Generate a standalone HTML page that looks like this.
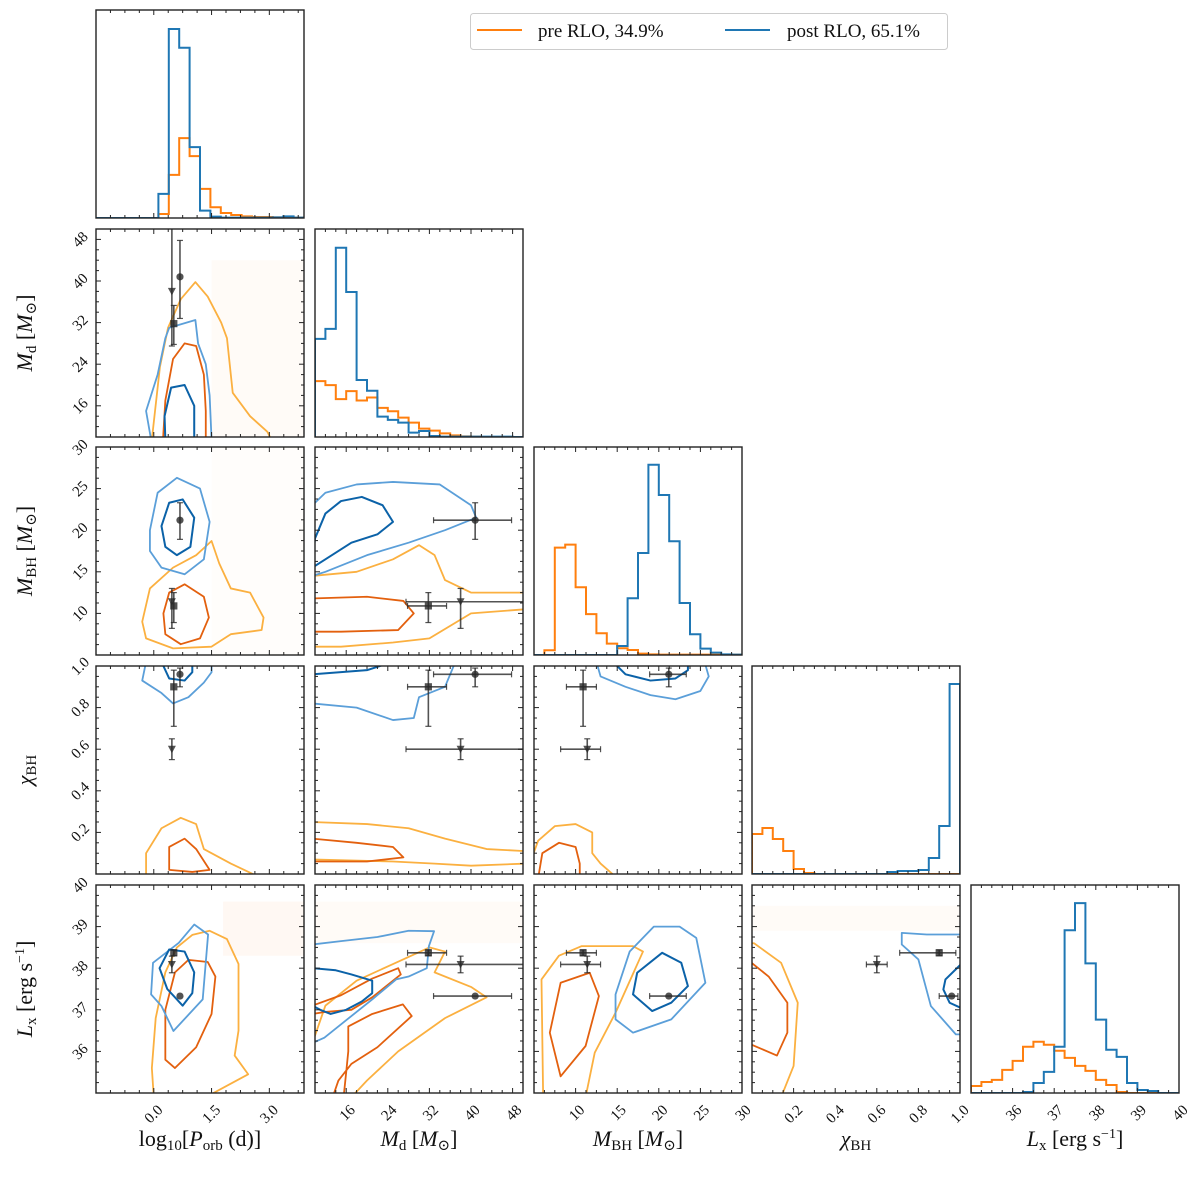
<!DOCTYPE html>
<html><head><meta charset="utf-8">
<style>
html,body{margin:0;padding:0;background:#fff;}
svg{display:block;}
text{font-family:"Liberation Serif","DejaVu Serif",serif;fill:#111;}
</style></head>
<body>
<svg id="fig" width="1200" height="1190" viewBox="0 0 1200 1190" xmlns="http://www.w3.org/2000/svg">
<defs id="defs"></defs>
<g id="legend">
  <rect x="470.5" y="13.5" width="477" height="36" rx="3" fill="#fff" stroke="#ccc" stroke-width="1"/>
  <line x1="477" y1="30" x2="522" y2="30" stroke="#ff7f0e" stroke-width="2"/>
  <text x="538" y="37" font-size="19">pre RLO, 34.9%</text>
  <line x1="725" y1="30" x2="770" y2="30" stroke="#1f77b4" stroke-width="2"/>
  <text x="787" y="37" font-size="19">post RLO, 65.1%</text>
</g>
</svg>
<script>
// ---------------- data ----------------
const varRanges = [[-1.5,3.9],[10,50],[5,30],[0,1],[35,40]];
const majorTicks = [[0,1.5,3.0],[16,24,32,40,48],[10,15,20,25,30],[0.2,0.4,0.6,0.8,1.0],[36,37,38,39,40]];
const tickLabels = [["0.0","1.5","3.0"],["16","24","32","40","48"],["10","15","20","25","30"],["0.2","0.4","0.6","0.8","1.0"],["36","37","38","39","40"]];
const minorStep = [0.375,2,1.25,0.05,0.25];

const histStart = [-1.5,10,5,0,35];
const histWidth = [0.27,2,1.25,0.05,0.25];
const histMax = [622,621,620,208,207];
const histPreP = [0,0,0,0,0,0,12,129,239,185,87,32,15,9,5,3,3,2,2,1];
const histPostP = [0,0,0,0,0,0,72,565,509,212,22,4,1,1,1,1,1,2,5,1];
const histPreMd = [167,155,113,137,109,118,87,77,58,43,25,19,11,5,2,1,0,0,0,0];
const histPostMd = [293,323,565,433,170,138,61,51,43,13,18,3,1,1,1,1,1,1,1,0];
const histPreBH = [0,14,320,329,202,122,65,34,20,15,4,2,1,1,1,1,1,1,1,1];
const histPostBH = [0,0,0,0,0,0,0,0,27,169,304,567,477,339,155,62,19,7,2,1];
const histPreChi = [40,46,35,23,5,1,0,0,0,0,0,0,0,0,0,0,0,0,0,0];
const histPostChi = [0,0,0,0,0,0,0,0,0,0,0,0,0,2,3,3,4,16,48,190];
const histPreLx = [7,11,13,23,32,46,51,48,42,35,27,22,13,8,1,0,0,0,0,0];
const histPostLx = [0,0,0,0,0,1,10,21,46,162,189,129,73,43,36,10,3,2,0,0];

const obsCircle = [0.68,40.8,21.2,0.96,37.33];
const obsCircleLo = [0,8,2.3,0.06,0];
const obsCircleHi = [0,7,2.1,0.03,0];
const obsSquare = [0.52,31.8,10.9,0.9,38.37];
const obsSquareLo = [0,4,2.0,0.19,0.07];
const obsSquareHi = [0,3.5,1.6,0.08,0.07];
const obsTriangle = [0.47,38,11.4,0.6,38.09];
const obsTriangleLo = [0,10.5,3.2,0.05,0.2];
const obsTriangleHi = [0,12.5,1.6,0.05,0.2];

const r1c0_oL=[[-0.05,9.5],[0.16,23.5],[0.37,31],[0.7,36.5],[1.08,39.8],[1.4,37],[1.75,32],[1.9,29],[2.05,18.5],[2.5,14],[2.95,11],[3.05,9.5]];
const r1c0_oD=[[0.24,9.5],[0.3,17],[0.5,25],[0.8,28],[1.1,27.5],[1.3,22],[1.35,15],[1.35,9.5]];
const r1c0_bL=[[-0.07,9.5],[-0.2,15],[0.1,22],[0.3,29],[0.4,31],[1.08,32.5],[1.15,28],[1.35,24],[1.45,18],[1.5,9.5]];
const r1c0_bD=[[0.3,9.5],[0.28,14],[0.45,19.5],[0.8,20],[1.05,16],[1.05,9.5]];
const r2c0_oL=[[-0.3,9],[-0.1,13],[0.5,15.5],[1.1,17],[1.5,18.7],[1.7,16],[2.0,13],[2.5,12.5],[2.85,9.5],[2.8,8],[2.0,7.5],[1.5,6],[0.5,5.8],[-0.2,7]];
const r2c0_oD=[[0.25,10],[0.4,12.5],[0.8,13.5],[1.3,12],[1.43,9.5],[1.2,7],[0.7,6.3],[0.3,7.5]];
const r2c0_bL=[[-0.1,20],[0.1,24.5],[0.6,26.3],[1.2,25],[1.45,21],[1.3,16.5],[0.8,14.7],[0.2,15.5],[-0.1,17.5]];
const r2c0_bD=[[0.2,20.5],[0.4,23.3],[0.75,23.7],[1.05,21.5],[0.95,18],[0.6,17],[0.3,18]];
const r2c1_oL=[[9.5,14.5],[18,15],[25,16.5],[30,18.2],[33,17],[35,14],[40,12.5],[50.5,12.5],[50.5,10.5],[40,10],[32,7],[25,6.5],[15,6],[9.5,6]];
const r2c1_oD=[[9.5,11.8],[20,12],[27,11.5],[29,10],[26,8],[15,7.8],[9.5,7.8]];
const r2c1_bL=[[9.5,23],[12,24.5],[18,25.5],[25,25.8],[34,25.5],[40,23],[41,21.5],[35,20],[28,18.5],[20,17],[12,15],[9.5,14.5]];
const r2c1_bD=[[9.5,16],[10,19],[12,22],[15,23.5],[19,24],[23,23],[25,21],[22,19.5],[17,18.5],[12,16.5],[9.5,15.5]];
const r3c0_oL=[[-0.2,-0.02],[-0.2,0.1],[0.2,0.22],[0.7,0.27],[1.1,0.24],[1.3,0.12],[2,0.05],[2.8,-0.02]];
const r3c0_oD=[[0.4,0.02],[0.4,0.13],[0.8,0.17],[1.1,0.12],[1.45,0.02],[1.0,0.01]];
const r3c0_bL=[[-0.2,1.02],[-0.3,0.93],[0.2,0.87],[0.5,0.82],[0.9,0.85],[1.3,0.92],[1.5,0.97],[1.5,1.02]];
const r3c0_bD=[[0.2,1.02],[0.4,0.94],[0.8,0.93],[1.0,0.97],[1.0,1.02]];
const r3c1_oL=[[9.5,0.25],[20,0.24],[28,0.22],[35,0.17],[43,0.12],[50.5,0.11],[50.5,0.05],[40,0.04],[33,0.05],[25,0.06],[9.5,0.07]];
const r3c1_oD=[[9.5,0.17],[18,0.15],[25,0.13],[27,0.08],[20,0.06],[9.5,0.06]];
const r3c1_bL=[[9.5,0.82],[18,0.8],[25,0.74],[29,0.75],[30,0.85],[35,0.9],[37,1.02],[9.5,1.02]];
const r3c1_bD=[[9.5,0.96],[20,0.98],[25,1.02],[9.5,1.02]];
const r3c2_oL=[[4.5,0.05],[5.5,0.16],[7.5,0.23],[10,0.24],[12,0.2],[12,0.1],[13,0.05],[15,-0.02],[4.5,-0.02]];
const r3c2_oD=[[5.5,-0.02],[6,0.1],[8,0.15],[10,0.13],[10.5,0.05],[10.5,-0.02]];
const r3c2_bL=[[12.5,1.02],[13,0.95],[16,0.9],[19,0.86],[22,0.84],[25,0.88],[26,0.95],[25.5,1.02]];
const r3c2_bD=[[14.5,1.02],[16,0.96],[19,0.93],[22,0.94],[23.5,0.98],[23.5,1.02]];
const r4c0_oL=[[0.0,34.9],[-0.05,35.6],[0.05,36.8],[0.3,37.9],[0.6,38.5],[1.0,38.8],[1.45,38.9],[1.9,38.7],[2.2,38.1],[2.2,36.5],[2.1,35.9],[2.45,35.45],[1.95,35.2],[1.35,34.9]];
const r4c0_oD=[[0.3,37.0],[0.55,37.9],[0.9,38.2],[1.4,38.15],[1.6,37.8],[1.5,36.9],[1.1,36.1],[0.55,35.6],[0.3,35.8],[0.3,36.5]];
const r4c0_bL=[[-0.07,37.37],[-0.02,38.13],[0.65,38.61],[1.05,39.05],[1.41,38.81],[1.27,37.25],[0.51,36.49],[0.2,37.09]];
const r4c0_bD=[[0.15,38.0],[0.4,38.45],[0.8,38.4],[1.05,37.9],[1.0,37.4],[0.75,37.1],[0.35,37.5]];
const r4c1_oL=[[9.5,36.2],[12,37.1],[18,37.7],[25,38.1],[32,38.5],[35,38.4],[33,37.9],[40,37.55],[43,37.3],[35,36.8],[26,36.0],[20,35.3],[17,34.9],[9.5,34.9]];
const r4c1_oD=[[9.5,37.1],[15,37.35],[21,37.75],[26,38.0],[26.5,37.85],[21,37.3],[17,37.0],[12,36.95],[9.5,36.9]];
const r4c1_oD2=[[16.4,36.6],[21,36.9],[26.9,37.13],[28.6,36.85],[22,36.1],[17,35.7],[14.5,35.3],[13.4,34.9],[15.5,34.9],[16,35.5],[16.4,36.0]];
const r4c1_bL=[[9.5,38.57],[15,38.65],[22,38.75],[28,38.9],[32.9,38.89],[31.9,38.53],[31.5,38.0],[28,37.8],[25.6,37.73],[21,37.25],[16,36.75],[11.8,36.33],[9.5,36.2]];
const r4c1_bD=[[9.5,38.0],[14,37.95],[17,37.85],[21,37.7],[21,37.4],[19,37.2],[16,37.0],[13,36.9],[11,37.0],[9.5,37.1]];
const r4c2_oL=[[6.1,34.9],[5.9,37.73],[8,38.3],[10.7,38.53],[16.9,38.53],[18.1,38.4],[14.8,36.93],[12.3,35.97],[11.2,34.9]];
const r4c2_oD=[[8.2,37.65],[11.7,37.89],[12.8,37.33],[11.2,36.13],[8.2,35.4],[6.9,36.45]];
const r4c2_bL=[[14.8,37.37],[16.5,38.4],[19.4,39.0],[22.5,39.0],[24.5,38.73],[25.6,37.65],[21.5,36.77],[16.9,36.45],[14.8,36.77]];
const r4c2_bD=[[16.9,37.37],[17.4,37.89],[20.4,38.37],[22.7,38.13],[23.5,37.57],[21.5,37.17],[19.2,36.97]];
const r4c3_oL=[[-0.02,38.6],[0.01,38.6],[0.14,38.13],[0.22,37.17],[0.2,35.65],[0.14,34.9],[-0.02,34.9]];
const r4c3_oD=[[-0.02,38.2],[0.08,37.8],[0.17,37.17],[0.17,36.45],[0.12,35.9],[-0.02,36.2]];
const r4c3_bL=[[1.02,38.81],[0.84,38.81],[0.72,38.85],[0.72,38.57],[0.8,38.21],[0.86,37.09],[0.98,36.41],[1.02,36.41]];
const r4c3_bD=[[1.02,38.17],[0.93,37.73],[0.92,37.49],[0.95,37.17],[1.02,37.01]];

const speckR1C0=[1.5,3.9,10,44,0.03];
const speckR2C0=[1.5,3.9,5,30,0.015];
const speckR4C0=[1.8,3.9,38.3,39.6,0.05];
const speckR4C1=[10,50,38.6,39.6,0.03];
const speckR4C3=[0.0,1.0,38.9,39.5,0.03];

// ---------------- drawing ----------------
const NS="http://www.w3.org/2000/svg";
const svg=document.getElementById('fig');
const defs=document.getElementById('defs');
const P=208;
const colX=[96,315,534,752,971];
const rowY=[10,229,447,666,885];
const C_OD="#e3600e", C_OL="#fbb040", C_BD="#0b62a8", C_BL="#5b9fd9";
function sx(i,v){const r=varRanges[i];return colX[i]+(v-r[0])/(r[1]-r[0])*P;}
function sy(j,v){const r=varRanges[j];return rowY[j]+P-(v-r[0])/(r[1]-r[0])*P;}
function mk(tag,attrs,parent){const e=document.createElementNS(NS,tag);for(const k in attrs)e.setAttribute(k,attrs[k]);(parent||svg).appendChild(e);return e;}

function panelGroup(r,c){
  const cp=mk('clipPath',{id:'clip'+r+c},defs);
  mk('rect',{x:colX[c],y:rowY[r],width:P,height:P},cp);
  const g=mk('g',{'clip-path':'url(#clip'+r+c+')'});
  
  
  return g;
}
function drawFrame(r,c,yTicks){
  const g=mk('g',{});
  
  
  const x0=colX[c],y0=rowY[r];
  const rx=varRanges[c];
  const startX=Math.ceil(rx[0]/minorStep[c]-1e-9)*minorStep[c];
  for(let v=startX; v<=rx[1]+1e-9; v+=minorStep[c]){
    const isMaj=majorTicks[c].some(m=>Math.abs(m-v)<1e-6);
    const L=isMaj?5:3, X=sx(c,v);
    mk('line',{x1:X,y1:y0+P,x2:X,y2:y0+P-L,stroke:'#222','stroke-width':1},g);
    mk('line',{x1:X,y1:y0,x2:X,y2:y0+L,stroke:'#222','stroke-width':1},g);
  }
  if(yTicks){
    const ry=varRanges[r];
    const startY=Math.ceil(ry[0]/minorStep[r]-1e-9)*minorStep[r];
    for(let v=startY; v<=ry[1]+1e-9; v+=minorStep[r]){
      const isMaj=majorTicks[r].some(m=>Math.abs(m-v)<1e-6);
      const L=isMaj?5:3, Y=sy(r,v);
      mk('line',{x1:x0,y1:Y,x2:x0+L,y2:Y,stroke:'#222','stroke-width':1},g);
      mk('line',{x1:x0+P,y1:Y,x2:x0+P-L,y2:Y,stroke:'#222','stroke-width':1},g);
    }
  }
  mk('rect',{x:x0,y:y0,width:P,height:P,fill:'none',stroke:'#222','stroke-width':1.4},g);
}
function drawHist(c,vals,color,name){
  const base=rowY[c]+P;
  let d='M'+sx(c,histStart[c])+','+base;
  vals.forEach((v,k)=>{
    const xa=sx(c,histStart[c]+k*histWidth[c]), xb=sx(c,histStart[c]+(k+1)*histWidth[c]);
    const y=base-v/histMax[c]*P;
    d+=' L'+xa+','+y+' L'+xb+','+y;
  });
  d+=' L'+sx(c,histStart[c]+vals.length*histWidth[c])+','+base;
  const g=panelGroup(c,c);
  const p=mk('path',{d:d,fill:'none',stroke:color,'stroke-width':2},g);
  
  
}
function drawContour(r,c,g,pts,color,w,name){
  const d=pts.map((p,k)=>(k?'L':'M')+sx(c,p[0])+','+sy(r,p[1])).join(' ')+' Z';
  const p=mk('path',{d:d,fill:'none',stroke:color,'stroke-width':w,'stroke-linejoin':'round'},g);
  
  
}
function drawSpeck(r,c,g,s){
  const e=mk('rect',{x:sx(c,s[0]),y:sy(r,s[3]),width:sx(c,s[1])-sx(c,s[0]),height:sy(r,s[2])-sy(r,s[3]),fill:'#ff7f0e',opacity:s[4]},g);
  
  
}
function drawObs(r,c,g,val,lo,hi,shape){
  const X=sx(c,val[c]),Y=sy(r,val[r]);
  const col='rgba(40,40,40,0.8)';
  if(lo[c]+hi[c]>0){
    const xa=sx(c,val[c]-lo[c]),xb=sx(c,val[c]+hi[c]);
    mk('line',{x1:xa,y1:Y,x2:xb,y2:Y,stroke:col,'stroke-width':1.6},g);
    mk('line',{x1:xa,y1:Y-3,x2:xa,y2:Y+3,stroke:col,'stroke-width':1.2},g);
    mk('line',{x1:xb,y1:Y-3,x2:xb,y2:Y+3,stroke:col,'stroke-width':1.2},g);
  }
  if(lo[r]+hi[r]>0){
    const ya=sy(r,val[r]-lo[r]),yb=sy(r,val[r]+hi[r]);
    mk('line',{x1:X,y1:ya,x2:X,y2:yb,stroke:col,'stroke-width':1.6},g);
    mk('line',{x1:X-3,y1:ya,x2:X+3,y2:ya,stroke:col,'stroke-width':1.2},g);
    mk('line',{x1:X-3,y1:yb,x2:X+3,y2:yb,stroke:col,'stroke-width':1.2},g);
  }
  let m;
  if(shape==='circle') m=mk('circle',{cx:X,cy:Y,r:3.6,fill:col},g);
  else if(shape==='square') m=mk('rect',{x:X-3.6,y:Y-3.6,width:7.2,height:7.2,fill:col},g);
  else m=mk('path',{d:'M'+(X-4)+','+(Y-3.5)+' L'+(X+4)+','+(Y-3.5)+' L'+X+','+(Y+4)+' Z',fill:col},g);
  
  
}

const contourSets={
 '1,0':[r1c0_oL,r1c0_oD,r1c0_bL,r1c0_bD,[]],
 '2,0':[r2c0_oL,r2c0_oD,r2c0_bL,r2c0_bD,[]],
 '2,1':[r2c1_oL,r2c1_oD,r2c1_bL,r2c1_bD,[]],
 '3,0':[r3c0_oL,r3c0_oD,r3c0_bL,r3c0_bD,[]],
 '3,1':[r3c1_oL,r3c1_oD,r3c1_bL,r3c1_bD,[]],
 '3,2':[r3c2_oL,r3c2_oD,r3c2_bL,r3c2_bD,[]],
 '4,0':[r4c0_oL,r4c0_oD,r4c0_bL,r4c0_bD,[]],
 '4,1':[r4c1_oL,r4c1_oD,r4c1_bL,r4c1_bD,r4c1_oD2],
 '4,2':[r4c2_oL,r4c2_oD,r4c2_bL,r4c2_bD,[]],
 '4,3':[r4c3_oL,r4c3_oD,r4c3_bL,r4c3_bD,[]]
};
const speckSets={'1,0':speckR1C0,'2,0':speckR2C0,'4,0':speckR4C0,'4,1':speckR4C1,'4,3':speckR4C3};

for(let r=1;r<5;r++){
  for(let c=0;c<r;c++){
    const g=panelGroup(r,c);
    const key=r+','+c;
    if(speckSets[key]) drawSpeck(r,c,g,speckSets[key]);
    const s=contourSets[key];
    drawContour(r,c,g,s[0],C_OL,1.8,'pre-rlo-contour-outer');
    drawContour(r,c,g,s[1],C_OD,1.8,'pre-rlo-contour-inner');
    if(s[4].length) drawContour(r,c,g,s[4],C_OD,1.8,'pre-rlo-contour-inner');
    drawContour(r,c,g,s[2],C_BL,1.8,'post-rlo-contour-outer');
    drawContour(r,c,g,s[3],C_BD,2,'post-rlo-contour-inner');
    drawObs(r,c,g,obsSquare,obsSquareLo,obsSquareHi,'square');
    drawObs(r,c,g,obsTriangle,obsTriangleLo,obsTriangleHi,'triangle');
    drawObs(r,c,g,obsCircle,obsCircleLo,obsCircleHi,'circle');
    drawFrame(r,c,true);
  }
}
drawHist(0,histPreP,'#ff7f0e','hist-logp-pre-rlo');
drawHist(0,histPostP,'#1f77b4','hist-logp-post-rlo');
drawHist(1,histPreMd,'#ff7f0e','hist-md-pre-rlo');
drawHist(1,histPostMd,'#1f77b4','hist-md-post-rlo');
drawHist(2,histPreBH,'#ff7f0e','hist-mbh-pre-rlo');
drawHist(2,histPostBH,'#1f77b4','hist-mbh-post-rlo');
drawHist(3,histPreChi,'#ff7f0e','hist-chi-pre-rlo');
drawHist(3,histPostChi,'#1f77b4','hist-chi-post-rlo');
drawHist(4,histPreLx,'#ff7f0e','hist-lx-pre-rlo');
drawHist(4,histPostLx,'#1f77b4','hist-lx-post-rlo');
for(let c=0;c<5;c++) drawFrame(c,c,false);

const base=rowY[4]+P;
for(let c=0;c<5;c++){
  majorTicks[c].forEach((v,k)=>{
    const X=sx(c,v)+3, Y=base+11;
    const t=mk('text',{x:X,y:Y,'font-size':15,'text-anchor':'end',transform:'rotate(-45 '+X+' '+Y+')','dominant-baseline':'hanging'});
    t.textContent=tickLabels[c][k];
    
    
  });
}
for(let r=1;r<5;r++){
  majorTicks[r].forEach((v,k)=>{
    const X=colX[0]-16, Y=sy(r,v);
    const t=mk('text',{x:X,y:Y+5,'font-size':15,'text-anchor':'middle',transform:'rotate(-45 '+X+' '+Y+')'});
    t.textContent=tickLabels[r][k];
    
    
  });
}
</script>
<script>
(function(){
const NS="http://www.w3.org/2000/svg";
const svg=document.getElementById('fig');
function title(html,x,y,rot,name){
  const t=document.createElementNS(NS,'text');
  t.setAttribute('x',x);t.setAttribute('y',y);t.setAttribute('font-size','22');t.setAttribute('text-anchor','middle');
  if(rot) t.setAttribute('transform','rotate(-90 '+x+' '+y+')');
  t.innerHTML=html;
  
  
  svg.appendChild(t);
}
const sub='<tspan font-size="15" dy="4">';
const end='</tspan><tspan dy="-4">';
title('log'+sub+'10'+end+'[<tspan font-style="italic">P</tspan>'+sub+'orb'+end+' (d)]</tspan>',200,1146,false,'x-axis-title-logp');
title('<tspan font-style="italic">M</tspan>'+sub+'d'+end+' [<tspan font-style="italic">M</tspan>'+sub+'⊙'+end+']</tspan>',419,1146,false,'x-axis-title-md');
title('<tspan font-style="italic">M</tspan>'+sub+'BH'+end+' [<tspan font-style="italic">M</tspan>'+sub+'⊙'+end+']</tspan>',638,1146,false,'x-axis-title-mbh');
title('<tspan font-style="italic">χ</tspan>'+sub+'BH</tspan>',856,1146,false,'x-axis-title-chi');
title('<tspan font-style="italic">L</tspan>'+sub+'x'+end+' [erg s</tspan><tspan font-size="14" dy="-8">−1</tspan><tspan dy="8">]</tspan>',1075,1146,false,'x-axis-title-lx');
title('<tspan font-style="italic">M</tspan>'+sub+'d'+end+' [<tspan font-style="italic">M</tspan>'+sub+'⊙'+end+']</tspan>',32,333,true,'y-axis-title-md');
title('<tspan font-style="italic">M</tspan>'+sub+'BH'+end+' [<tspan font-style="italic">M</tspan>'+sub+'⊙'+end+']</tspan>',32,551,true,'y-axis-title-mbh');
title('<tspan font-style="italic">χ</tspan>'+sub+'BH</tspan>',32,770,true,'y-axis-title-chi');
title('<tspan font-style="italic">L</tspan>'+sub+'x'+end+' [erg s</tspan><tspan font-size="14" dy="-8">−1</tspan><tspan dy="8">]</tspan>',32,989,true,'y-axis-title-lx');
})();
</script>
</body></html>
